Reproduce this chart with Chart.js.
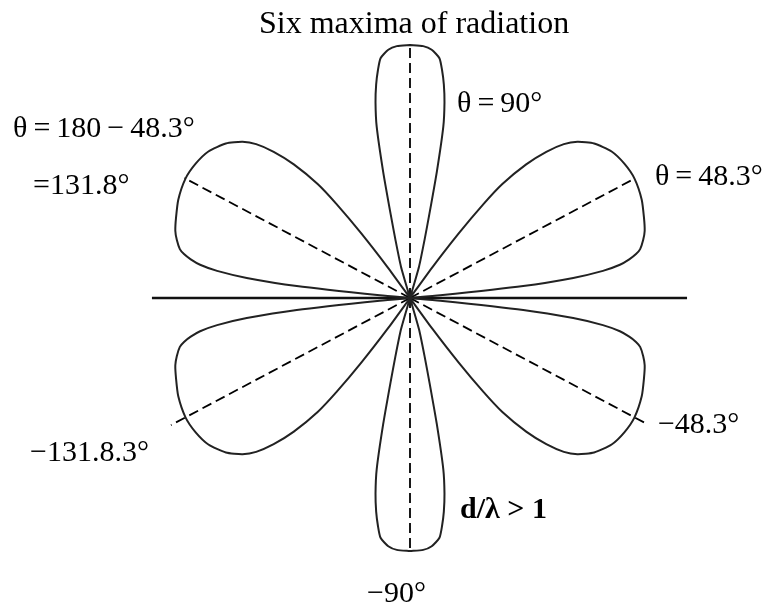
<!DOCTYPE html>
<html>
<head>
<meta charset="utf-8">
<script src="https://cdn.jsdelivr.net/npm/chart.js@4"></script>
<style>
  body { margin: 0; background: #fff; }
  canvas { display: block; }
</style>
</head>
<body>
<canvas id="pattern" width="768" height="608"></canvas>
<script>
// one quadrant of the lobe outline: angle from the array axis (deg) and relative field
const lobeAngle = [0, 4, 5, 6, 7, 8, 9, 10, 11, 12, 14, 16, 19, 23, 28, 32, 36, 40, 43, 45,
                   47, 49, 51, 52, 53, 54, 55, 72, 74, 76, 77, 78, 79, 80, 81, 82, 83, 85, 87, 90]
const lobeGain = [0, 0, 0.12, 0.45, 0.65, 0.77, 0.84, 0.88, 0.91, 0.93, 0.95, 0.965, 0.978, 0.995, 1.005, 1.0, 0.985, 0.95, 0.905, 0.86,
                  0.79, 0.70, 0.58, 0.47, 0.32, 0.15, 0, 0, 0.13, 0.24, 0.34, 0.51, 0.69, 0.785, 0.855, 0.91, 0.955, 0.985, 0.997, 1.0]

// array axis, left and right ends
const axisSpan = [-1.02, 1.095]

// dashed directions of the maxima
const rayAngle = [90, -90, 28, 152, -28, -152]
const rayReach = [1.008, 1.004, 1.006, 1.01, 1.06, 1.07]

const noteText = ['Six maxima of radiation', 'θ\u2009=\u200990°', 'θ\u2009=\u2009180\u2009−\u200948.3°', '=131.8°',
                  'θ\u2009=\u200948.3°', '−131.8.3°', '−48.3°', '−90°', 'd/λ > 1']

// pixels per unit field and where the origin sits
const PX = 253
const OX = 410, OY = 298

const rad = d => d * Math.PI / 180
const toXY = (deg, r) => ({ x: r * Math.cos(rad(deg)), y: r * Math.sin(rad(deg)) })

// pattern is symmetric about both axes, trace it once around
const outline = []
;[[1, 1], [-1, 1], [-1, -1], [1, -1]].forEach(([sx, sy], q) => {
  const idx = lobeAngle.map((_, i) => i)
  if (q % 2) idx.reverse()
  idx.forEach(i => {
    const p = toXY(lobeAngle[i], lobeGain[i])
    outline.push({ x: sx * p.x, y: sy * p.y })
  })
})

const rays = rayAngle.map((a, i) => ({
  data: [{ x: 0, y: 0 }, toXY(a, rayReach[i])],
  showLine: true,
  pointRadius: 0,
  borderColor: '#000',
  borderWidth: 1.8,
  borderDash: [10, 5]
}))

// label anchors in field units (left edge / baseline)
const notePos = [
  [0.016, 1.047, 'center'], [0.186, 0.735], [-1.569, 0.636], [-1.49, 0.41],
  [0.968, 0.447], [-1.502, -0.644], [0.98, -0.534], [-0.17, -1.2], [0.198, -0.87]
]

const notes = {
  id: 'notes',
  afterDatasetsDraw(chart) {
    const { ctx, scales } = chart
    ctx.save()
    ctx.fillStyle = '#000'
    ctx.textBaseline = 'alphabetic'
    noteText.forEach((t, i) => {
      const [u, v, align] = notePos[i]
      ctx.textAlign = align || 'left'
      if (i === 0) ctx.font = '32px "Liberation Serif"'
      else if (i === noteText.length - 1) ctx.font = 'bold 30px "Liberation Serif"'
      else ctx.font = '30px "Liberation Serif"'
      ctx.fillText(t, scales.x.getPixelForValue(u), scales.y.getPixelForValue(v))
    })
    ctx.restore()
  }
}

new Chart(document.getElementById('pattern'), {
  type: 'scatter',
  data: {
    datasets: [
      {
        data: outline,
        showLine: true,
        pointRadius: 0,
        borderColor: '#222',
        borderWidth: 2,
        tension: 0.2
      },
      {
        data: axisSpan.map(x => ({ x, y: 0 })),
        showLine: true,
        pointRadius: 0,
        borderColor: '#111',
        borderWidth: 2.5
      },
      ...rays
    ]
  },
  options: {
    responsive: false,
    animation: false,
    layout: { padding: 0 },
    plugins: { legend: { display: false }, tooltip: { enabled: false } },
    scales: {
      x: { type: 'linear', display: false, min: -OX / PX, max: (768 - OX) / PX },
      y: { type: 'linear', display: false, min: -(608 - OY) / PX, max: OY / PX }
    }
  },
  plugins: [notes]
})
</script>
</body>
</html>
